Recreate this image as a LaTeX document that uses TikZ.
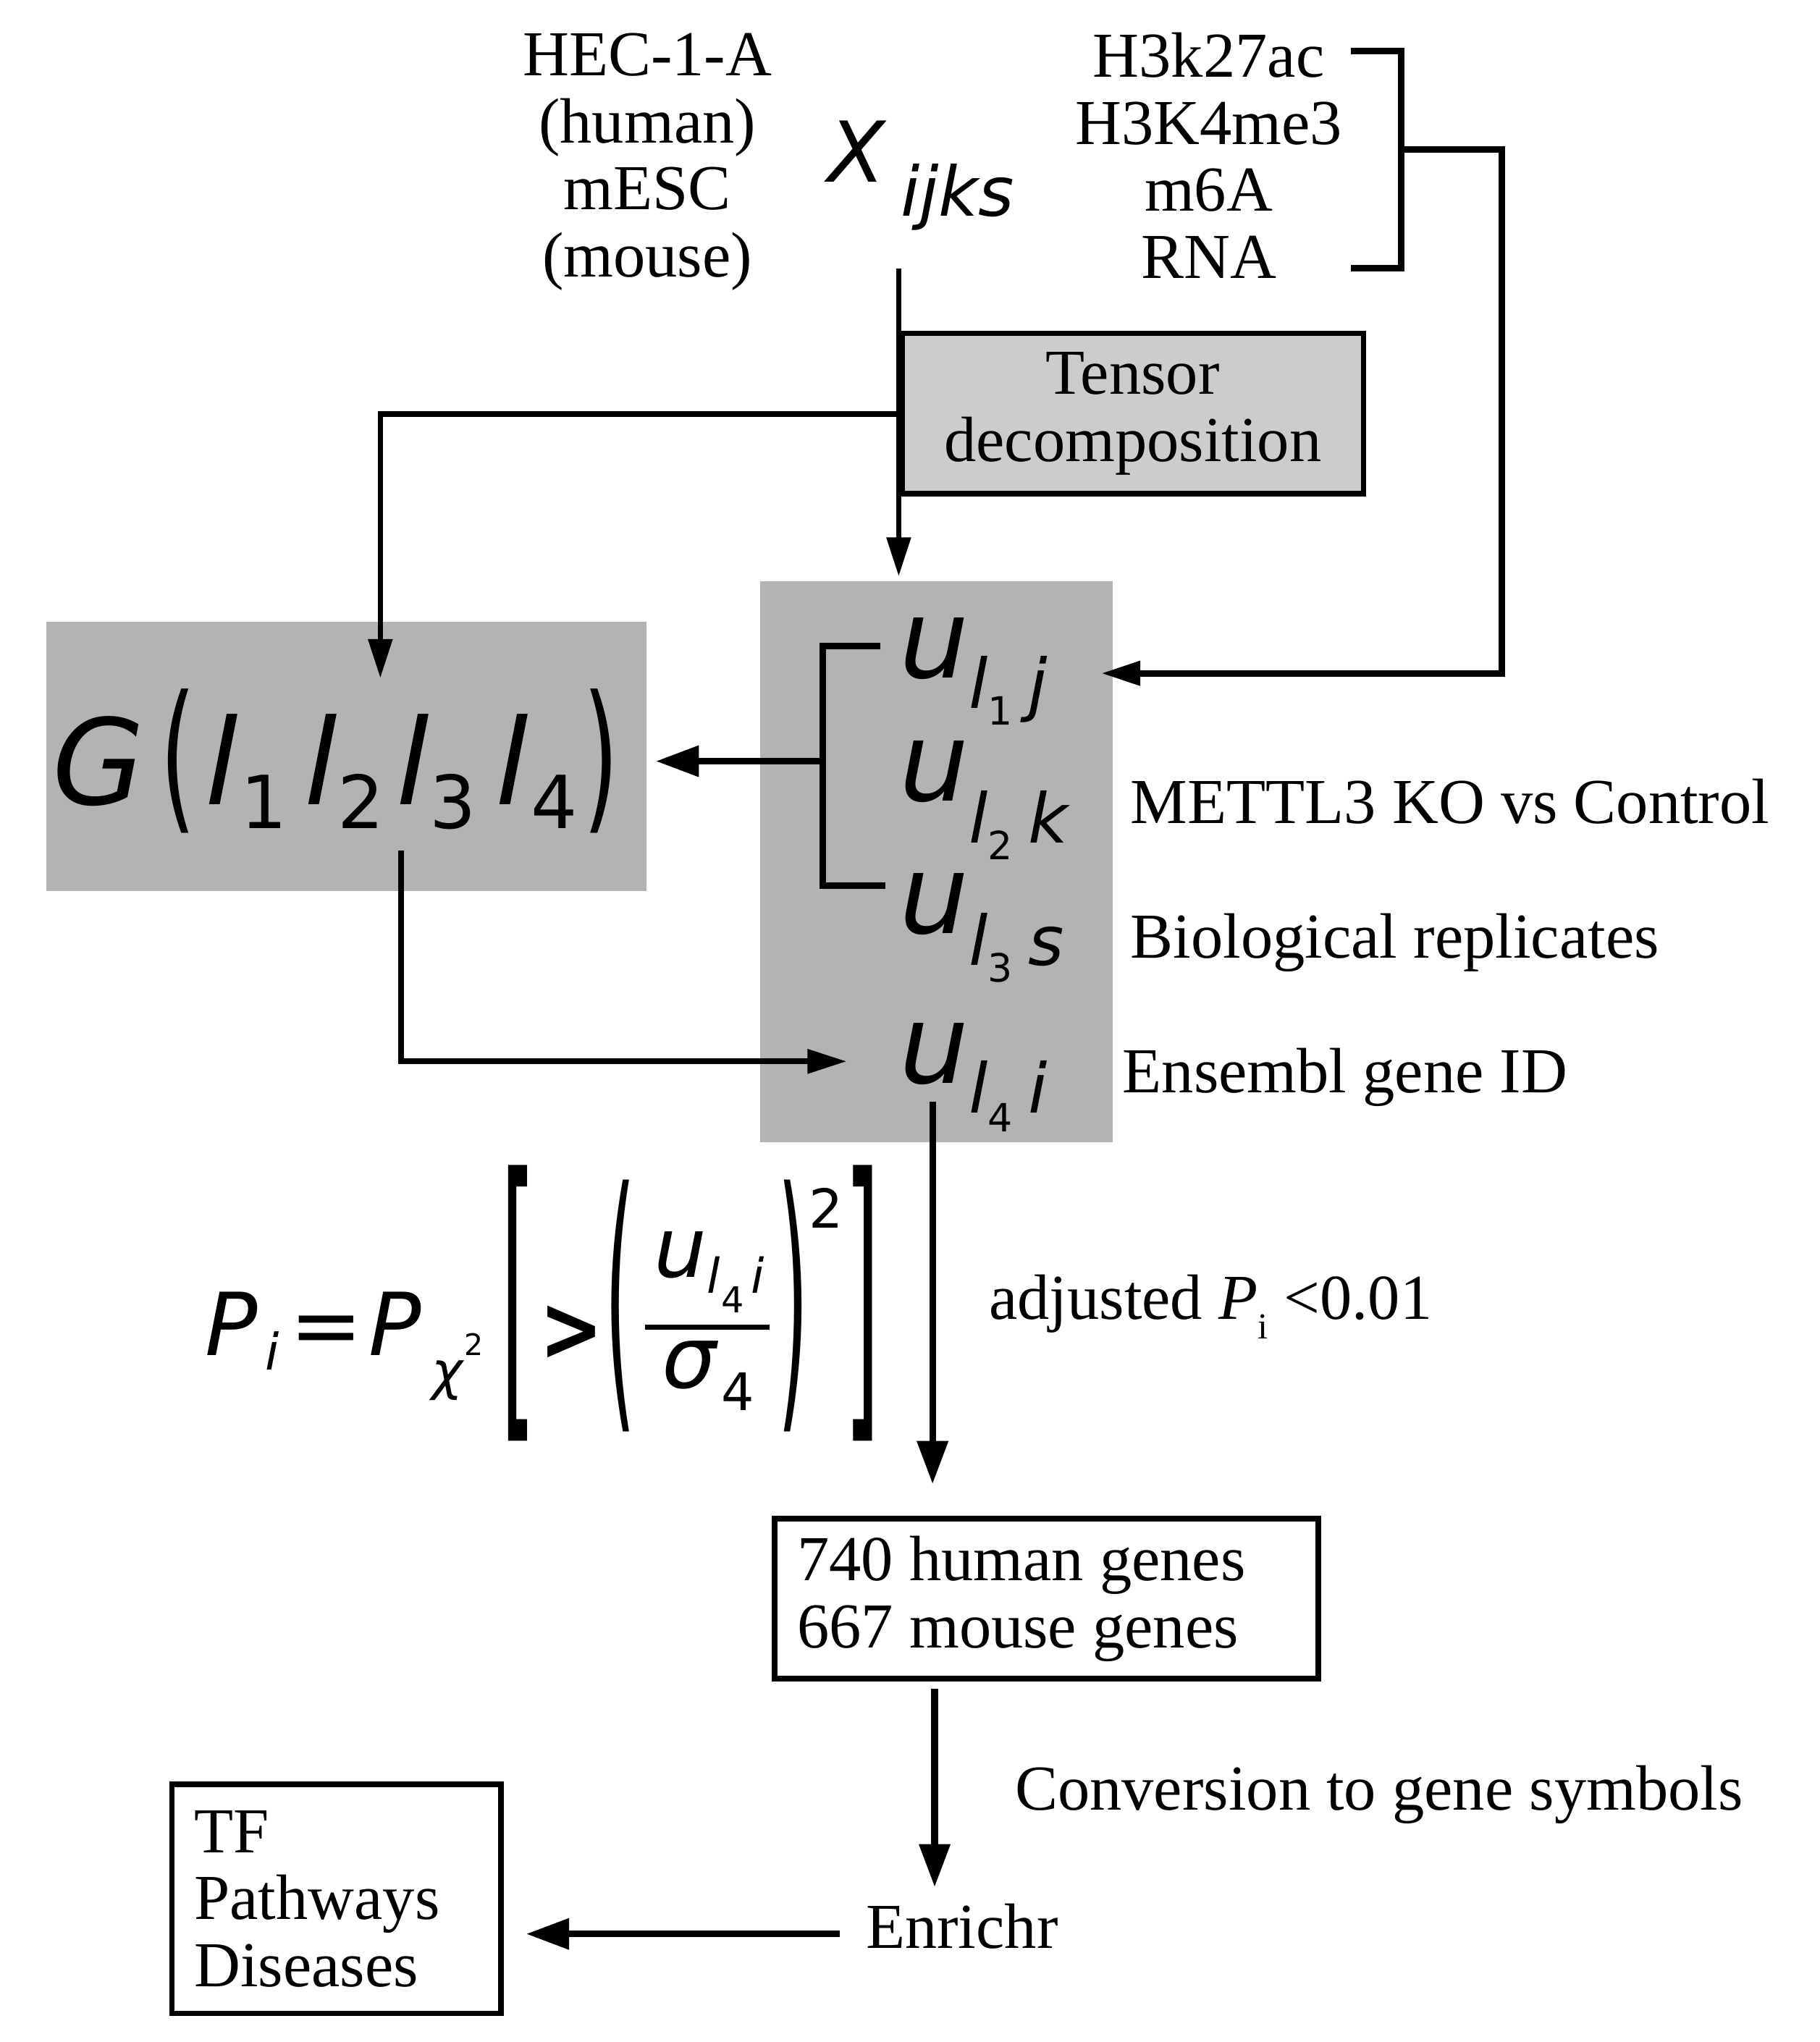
\documentclass[tikz,border=0pt]{standalone}
\usepackage{fontspec}
\usepackage{graphicx}
\setmainfont{Liberation Serif}
\newfontfamily\dv{DejaVu Sans}
\usetikzlibrary{arrows.meta}
\newlength\ux \setlength\ux{0.02cm}
\newcommand\fs[1]{\fontsize{#1}{#1}\selectfont}
\newcommand\dn[2]{\raisebox{-#1\ux}{#2}}
\newcommand\uterm[4]{{\fs{48}u}\dn{#3}{\fs{30}l}\dn{#4}{\upshape\fs{17}#1}\hspace{12\ux}\dn{#3}{\fs{30}#2}}
\newcommand\bigpar[1]{\dn{6}{\fs{40}\scalebox{1}[1.77]{#1}}}
\definecolor{gA}{RGB}{179,179,179}
\definecolor{gB}{RGB}{204,204,204}
\begin{document}
\begin{tikzpicture}[x=0.02cm,y=-0.02cm,
  txt/.style={font=\fontsize{28}{29.3}\selectfont, inner sep=0pt},
  mth/.style={inner sep=0pt, anchor=base west},
  ln/.style={line width=2.4pt},
  thk/.style={line width=2.9pt},
  tipS/.style={-{Triangle[length=0.6cm,width=0.36cm]}},
  tipL/.style={-{Triangle[length=0.66cm,width=0.46cm]}},
  bx/.style={draw, line width=2.4pt}]
\useasboundingbox (0,0) rectangle (1397,1568);
\fill[white] (0,0) rectangle (1397,1568);

% gray boxes
\node[fill=gA, inner sep=0, minimum width=461\ux, minimum height=207\ux, anchor=north west] (gbox) at (35,477) {};
\node[fill=gA, inner sep=0, minimum width=271\ux, minimum height=431\ux, anchor=north west] (ubox) at (583,446) {};

% top texts
\node[txt, anchor=north, align=flush center] (cells) at (497,25.1) {HEC-1-A\\(human)\\mESC\\(mouse)};
\node[txt, anchor=north, align=flush center] (marks) at (928,24.8) {H3k27ac\\H3K4me3\\m6A\\RNA};
\node[mth] (X) at (635,140) {\dv\itshape\fs{36.7}X\hspace{12\ux}\dn{26}{\fs{30}ijks}};

% tensor decomposition box
\node[bx, txt, fill=gB, align=flush center, minimum width=354.5\ux, minimum height=123\ux] (tensor) at (869.75,317.5) {Tensor\\decomposition};

% core tensor
\node[mth] (G) at (40,617.6) {\dv\fs{52}\itshape G\hspace{12\ux}\upshape\bigpar{(}\hspace{7\ux}\itshape l\hspace{2\ux}\dn{18.4}{\upshape\fs{32}1}\hspace{13\ux}l\dn{18.4}{\upshape\fs{32}2}\hspace{9.5\ux}l\dn{18.4}{\upshape\fs{32}3}\hspace{15\ux}l\hspace{2\ux}\dn{18.4}{\upshape\fs{32}4}\hspace{4\ux}\upshape\bigpar{)}};

% singular vectors
\node[mth] (u1) at (690,520.7) {\dv\itshape\uterm{1}{j}{23}{36}};
\node[mth] (u2) at (690,614.8) {\dv\itshape\uterm{2}{k}{32.7}{45}};
\node[mth] (u3) at (690,717) {\dv\itshape\uterm{3}{s}{24}{37}};
\node[mth] (u4) at (690,831.8) {\dv\itshape\uterm{4}{i}{22.7}{37}};

\node[txt, anchor=base west] (lab2) at (867.7,632.5) {METTL3 KO vs Control};
\node[txt, anchor=base west] (lab3) at (867.7,735.7) {Biological replicates};
\node[txt, anchor=base west] (lab4) at (861.6,839) {Ensembl gene ID};

% equation
\node[mth] (eqPi) at (157,1041) {\dv\itshape\fs{38}P\hspace{6\ux}\dn{11}{\fs{22}i}};
\node[mth] (eqeq) at (222,1041) {\dv\fs{38}=};
\node[mth] (eqP) at (283,1041) {\dv\itshape\fs{38}P\hspace{8\ux}\dn{26}{\fs{23}χ}\hspace{1\ux}{\upshape\fs{13}2}};
\node[mth] (brL) at (384,1075.5) {\dv\fs{40}\scalebox{1}[3.38]{[}};
\node[mth] (gt) at (414,1044.7) {\dv\bfseries\fs{40}\scalebox{0.83}[1]{>}};
\node[mth] (paL) at (464,1071) {\dv\fs{30}\scalebox{1.15}[4.12]{(}};
\node[mth] (num) at (502,981) {\dv\itshape\fs{36.4}u\dn{12}{\fs{21}l}\hspace{1\ux}\dn{27}{\upshape\fs{15.6}4}\hspace{5\ux}\dn{12}{\fs{21}i}};
\draw[line width=2.2pt] (495,1019) -- (591,1019);
\node[mth] (den) at (508,1066) {\dv\itshape\fs{37.5}σ\hspace{4\ux}\dn{17}{\upshape\fs{22.6}4}};
\node[mth] (paR) at (597,1071) {\dv\fs{30}\scalebox{1.15}[4.12]{)}};
\node[mth] (sq) at (621,943) {\dv\fs{23.5}2};
\node[mth] (brR) at (648,1075.5) {\dv\fs{40}\scalebox{1}[3.38]{]}};

\node[txt, anchor=base west] (adj) at (759,1013) {adjusted \textit{P}\dn{15}{\fs{16}i} <0.01};

% lower boxes and texts
\node[bx, txt, align=flush left, text width=382.6\ux, inner xsep=17.4\ux, inner ysep=0pt, minimum height=123\ux, anchor=north west] (genes) at (592.6,1164) {740 human genes\\667 mouse genes};
\node[txt, anchor=base west] (conv) at (779,1390) {Conversion to gene symbols};
\node[txt, anchor=base west] (enr) at (664.5,1496) {Enrichr};
\node[bx, txt, align=flush left, text width=218.6\ux, inner xsep=17\ux, inner ysep=0pt, minimum height=176\ux, anchor=north west] (tf) at (130,1368) {TF\\Pathways\\Diseases};

% connector points
\coordinate (xs) at (690,206);
\coordinate (xe) at (690,442.6);
\coordinate (tb) at (690,318);
\coordinate (gin) at (292,520.7);
\coordinate (b1) at (1037,39);
\coordinate (b2) at (1076,39);
\coordinate (b3) at (1076,206);
\coordinate (b4) at (1037,206);
\coordinate (bm) at (1076,115);
\coordinate (br) at (1153,115);
\coordinate (u1in) at (845.5,517);
\coordinate (ub1) at (676,496);
\coordinate (ub2) at (631.5,496);
\coordinate (ub3) at (631.5,680);
\coordinate (ub4) at (680,680);
\coordinate (ubm) at (631.5,584.5);
\coordinate (gout) at (503.6,584.5);
\coordinate (gs) at (308,653);
\coordinate (u4in) at (650,815);
\coordinate (u4s) at (716,846);
\coordinate (gnin) at (716,1139.5);
\coordinate (gnout) at (717.6,1297);
\coordinate (enin) at (717.6,1449);
\coordinate (enout) at (645,1485);
\coordinate (tfin) at (404,1485);

% connectors
\draw[ln,tipS] (xs) -- (xe);
\draw[ln,tipS] (tb) -| (gin);
\draw[thk] (b1) -- (b2) -- (b3) -- (b4);
\draw[thk,tipS] (bm) -- (br) |- (u1in);
\draw[thk] (ub1) -- (ub2) -- (ub3) -- (ub4);
\draw[thk,tipL] (ubm) -- (gout);
\draw[ln,tipS] (gs) |- (u4in);
\draw[thk,tipL] (u4s) -- (gnin);
\draw[thk,tipL] (gnout) -- (enin);
\draw[thk,tipL] (enout) -- (tfin);
\end{tikzpicture}
\end{document}
